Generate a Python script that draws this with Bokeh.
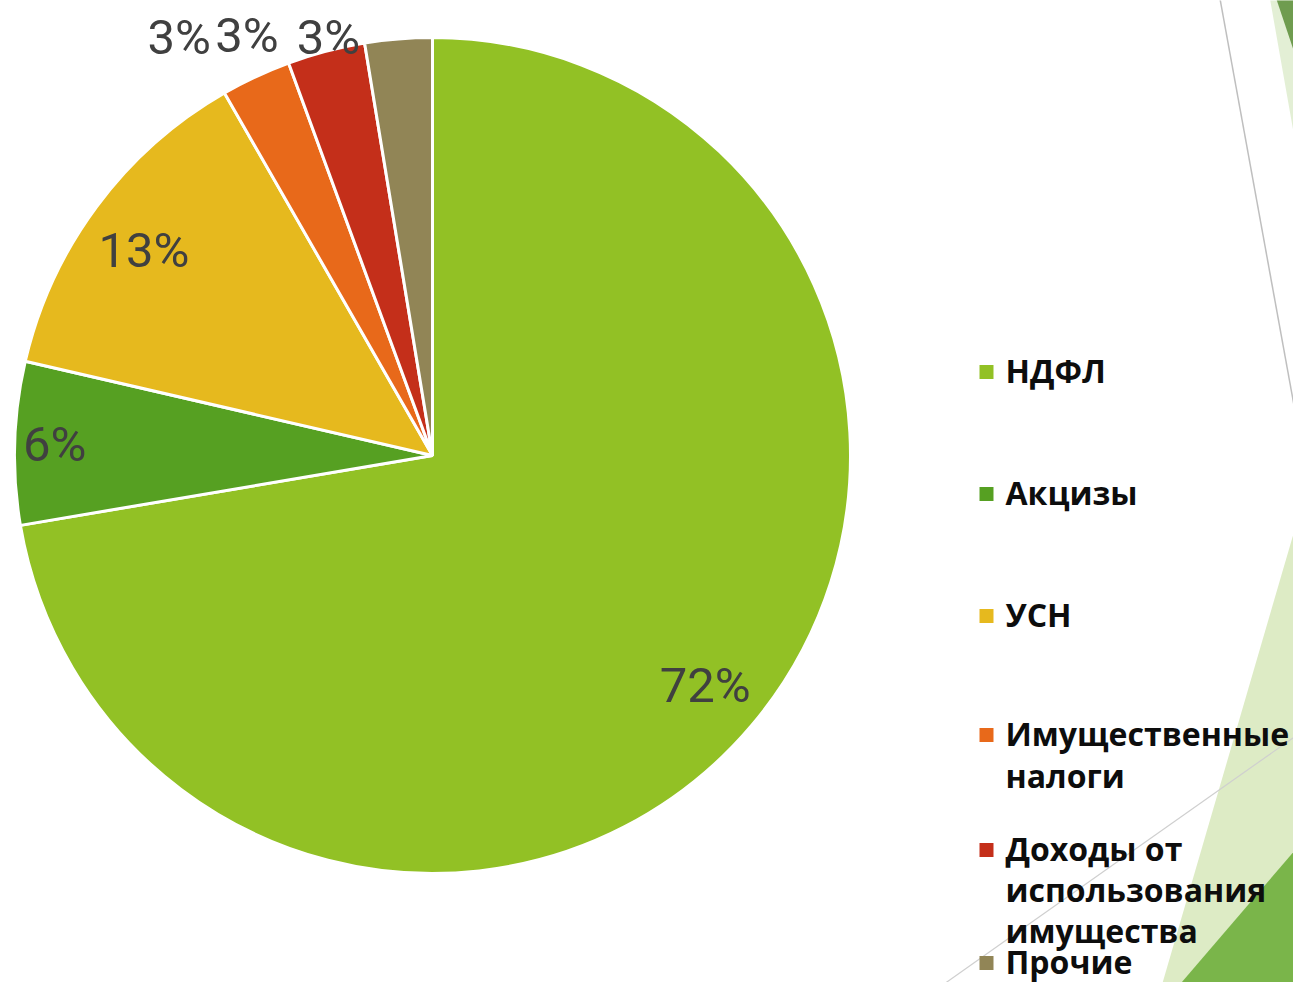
import math
from bokeh.plotting import figure
from bokeh.models import Range1d
from bokeh.core.properties import value
from bokeh.embed import file_html
from bokeh.resources import INLINE

# ---- data ----
categories = ["НДФЛ", "Акцизы", "УСН", "Имущественные\nналоги",
              "Доходы от\nиспользования\nимущества", "Прочие"]
shares = [72.4, 6.3, 13.1, 2.7, 3.0, 2.6]
colors = ["#92C125", "#56A022", "#E6B91E", "#E8691A", "#C42F1A", "#918556"]

# ---- layout (screen pixel coordinates, y measured from the top) ----
W, H = 1293, 982


def sy(y):
    return 998 - y


CX, CY, R = 432, 455, 418
label_r = [357, 378, 354, 489, 459, 431]
label_nudge_deg = [0, 0, 1.2, 6.2, 9.1, 9.3]
legend_baselines = [383, 505, 627, 746, 861, 974]
legend_steps = [42, 42, 42, 42, 41, 42]
TEXT_SHIFT = 13  # renderer places the alphabetic baseline this much lower

p = figure(width=W, height=H, x_range=Range1d(0, W), y_range=Range1d(998 - H, 998),
           output_backend="svg", toolbar_location=None,
           x_axis_location=None, y_axis_location=None, min_border=0)
p.grid.visible = False
p.outline_line_color = None
p.background_fill_color = "white"
p.border_fill_color = "white"


# ---- background decoration (theme shapes) ----
def poly(pts, color):
    p.patch([a for a, b in pts], [sy(b) for a, b in pts], fill_color=color, line_color=None)


poly([(1268, -10), (1320, -10), (1320, 222 + 11 * 5.4), (1309, 222)], "#E3EFD5")
poly([(1273, -10), (1320, -10), (1320, 97 + 11 * 2.7), (1309, 97)], "#6F9C4F")
p.line([1218, 1309], [sy(-10), sy(490)], line_color="#BFBFBF", line_width=1.5)
poly([(1312, 468), (1154, 1010), (1320, 1010)], "#DDEBC5")
p.line([906, 1320], [sy(1010), sy(718)], line_color="#CFCFCF", line_width=1.2)
poly([(1320, 820), (1157, 1010), (1320, 1010)], "#7AB54A")

# ---- pie ----
total = sum(shares)
fr = [s / total for s in shares]
cum = 0.0
for i, f in enumerate(fr):
    a0 = math.pi / 2 - 2 * math.pi * (cum + f)
    a1 = math.pi / 2 - 2 * math.pi * cum
    p.wedge(x=CX, y=sy(CY), radius=R, start_angle=a0, end_angle=a1,
            fill_color=colors[i], line_color="white", line_width=3)
    mid = math.pi / 2 - 2 * math.pi * (cum + f / 2) + math.radians(label_nudge_deg[i])
    lx = CX + label_r[i] * math.cos(mid)
    ly = sy(CY) + label_r[i] * math.sin(mid)
    p.text(x=[lx], y=[ly], text=[f"{round(100 * f)}%"], text_align="center",
           text_baseline="middle", text_font=value("Roboto"),
           text_font_size="49px", text_color="#404040")
    cum += f

# ---- legend ----
for i, cat in enumerate(categories):
    b = legend_baselines[i]
    p.scatter(x=[986], y=[sy(b - 11.5)], marker="square", size=14,
              fill_color=colors[i], line_color=None)
    for j, line in enumerate(cat.split("\n")):
        p.text(x=[1005], y=[sy(b - TEXT_SHIFT + legend_steps[i] * j)], text=[line],
               text_align="left", text_baseline="alphabetic", text_font=value("Open Sans"),
               text_font_style="bold", text_font_size="32px", text_color="#0D0D0D")

open("out.html", "w").write(file_html(p, INLINE))
